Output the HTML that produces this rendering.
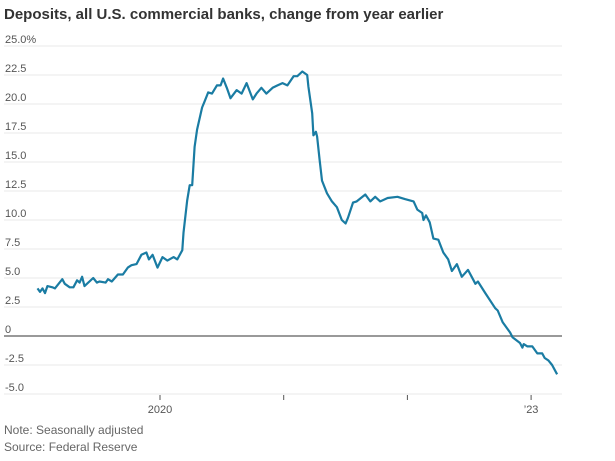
<!DOCTYPE html>
<html><head><meta charset="utf-8"><style>
body{margin:0;background:#fff;width:615px;height:456px;overflow:hidden;font-family:"Liberation Sans",sans-serif}
</style></head><body>
<svg width="615" height="456">
<text x="4" y="19" font-size="15" font-weight="bold" fill="#333">Deposits, all U.S. commercial banks, change from year earlier</text>
<g id="grid"></g>
<g id="xaxis"></g>
<path id="line" fill="none" stroke="#1a7ca3" stroke-width="2.2" stroke-linejoin="round"/>
<text x="4" y="434" font-size="12" fill="#666">Note: Seasonally adjusted</text>
<text x="4" y="451" font-size="12" fill="#666">Source: Federal Reserve</text>
</svg>
<script>
const yTicks=[25,22.5,20,17.5,15,12.5,10,7.5,5,2.5,0,-2.5,-5];
const yTickLabels=["25.0%","22.5","20.0","17.5","15.0","12.5","10.0","7.5","5.0","2.5","0","-2.5","-5.0"];
const xTicks=[2020,2021,2022,2023];
const xTickLabels=["2020","","","’23"];
const dates=[2019.01,2019.03,2019.05,2019.07,2019.09,2019.13,2019.15,2019.18,2019.21,2019.23,2019.27,2019.30,2019.33,2019.35,2019.37,2019.39,2019.46,2019.49,2019.51,2019.56,2019.58,2019.61,2019.66,2019.70,2019.74,2019.77,2019.81,2019.85,2019.89,2019.91,2019.94,2019.98,2020.02,2020.06,2020.11,2020.14,2020.18,2020.19,2020.22,2020.24,2020.26,2020.28,2020.30,2020.34,2020.36,2020.39,2020.42,2020.46,2020.49,2020.51,2020.54,2020.57,2020.62,2020.66,2020.70,2020.75,2020.78,2020.82,2020.86,2020.91,2020.95,2020.99,2021.03,2021.08,2021.11,2021.15,2021.19,2021.20,2021.23,2021.24,2021.26,2021.27,2021.29,2021.31,2021.35,2021.39,2021.43,2021.47,2021.50,2021.52,2021.56,2021.59,2021.66,2021.70,2021.74,2021.78,2021.84,2021.92,2021.98,2022.05,2022.08,2022.12,2022.13,2022.15,2022.18,2022.21,2022.25,2022.29,2022.33,2022.36,2022.40,2022.44,2022.49,2022.52,2022.55,2022.57,2022.63,2022.71,2022.73,2022.77,2022.83,2022.85,2022.91,2022.93,2022.94,2022.97,2023.01,2023.05,2023.09,2023.11,2023.14,2023.17,2023.21];
const values=[4.1,3.8,4.1,3.7,4.3,4.2,4.1,4.5,4.9,4.5,4.2,4.2,4.8,4.6,5.1,4.3,5.0,4.6,4.7,4.6,4.9,4.7,5.3,5.3,5.9,6.1,6.2,7.0,7.2,6.6,7.0,5.9,6.8,6.5,6.8,6.6,7.4,8.9,11.7,13.0,13.0,16.3,17.8,19.7,20.2,21.0,20.9,21.6,21.6,22.2,21.4,20.5,21.2,20.9,21.8,20.4,20.9,21.4,20.9,21.4,21.6,21.8,21.6,22.4,22.4,22.8,22.5,21.5,19.2,17.3,17.6,17.2,15.2,13.4,12.3,11.6,11.1,10.0,9.7,10.2,11.5,11.6,12.2,11.6,12.0,11.6,11.9,12.0,11.8,11.6,10.9,10.6,10.0,10.4,9.8,8.4,8.3,7.2,6.6,5.6,6.2,5.1,5.7,5.1,4.5,4.7,3.7,2.4,2.2,1.2,0.3,-0.1,-0.6,-1.0,-0.7,-0.9,-0.9,-1.5,-1.5,-1.9,-2.1,-2.5,-3.3];
const NS="http://www.w3.org/2000/svg";
function X(yr){return 160+(yr-2020)*123.7;}
function Y(v){return 336-v*11.6;}
const grid=document.getElementById('grid');
yTicks.forEach((t,i)=>{
  const l=document.createElementNS(NS,'line');
  
  
  l.setAttribute('x1',4);l.setAttribute('x2',562);
  l.setAttribute('y1',Y(t));l.setAttribute('y2',Y(t));
  l.setAttribute('stroke',t===0?'#999':'#e8e8e8');
  l.setAttribute('stroke-width',t===0?2:1);
  grid.appendChild(l);
  const tx=document.createElementNS(NS,'text');
  
  
  tx.setAttribute('x',5);tx.setAttribute('y',Y(t)-3);
  tx.setAttribute('font-size','11');tx.setAttribute('fill','#555');
  tx.textContent=yTickLabels[i];
  grid.appendChild(tx);
});
const xa=document.getElementById('xaxis');
xTicks.forEach((t,i)=>{
  const l=document.createElementNS(NS,'line');
  
  
  l.setAttribute('x1',X(t));l.setAttribute('x2',X(t));
  l.setAttribute('y1',Y(-5)+1);l.setAttribute('y2',Y(-5)+6);
  l.setAttribute('stroke','#555');
  xa.appendChild(l);
  if(xTickLabels[i]){
    const tx=document.createElementNS(NS,'text');
    
    
    tx.setAttribute('x',X(t));tx.setAttribute('y',413);
    tx.setAttribute('text-anchor','middle');
    tx.setAttribute('font-size','11');tx.setAttribute('fill','#555');
    tx.textContent=xTickLabels[i];
    xa.appendChild(tx);
  }
});
document.getElementById('line').setAttribute('d',dates.map((d,i)=>(i?'L':'M')+X(d).toFixed(1)+','+Y(values[i]).toFixed(1)).join(''));
</script>
</body></html>
